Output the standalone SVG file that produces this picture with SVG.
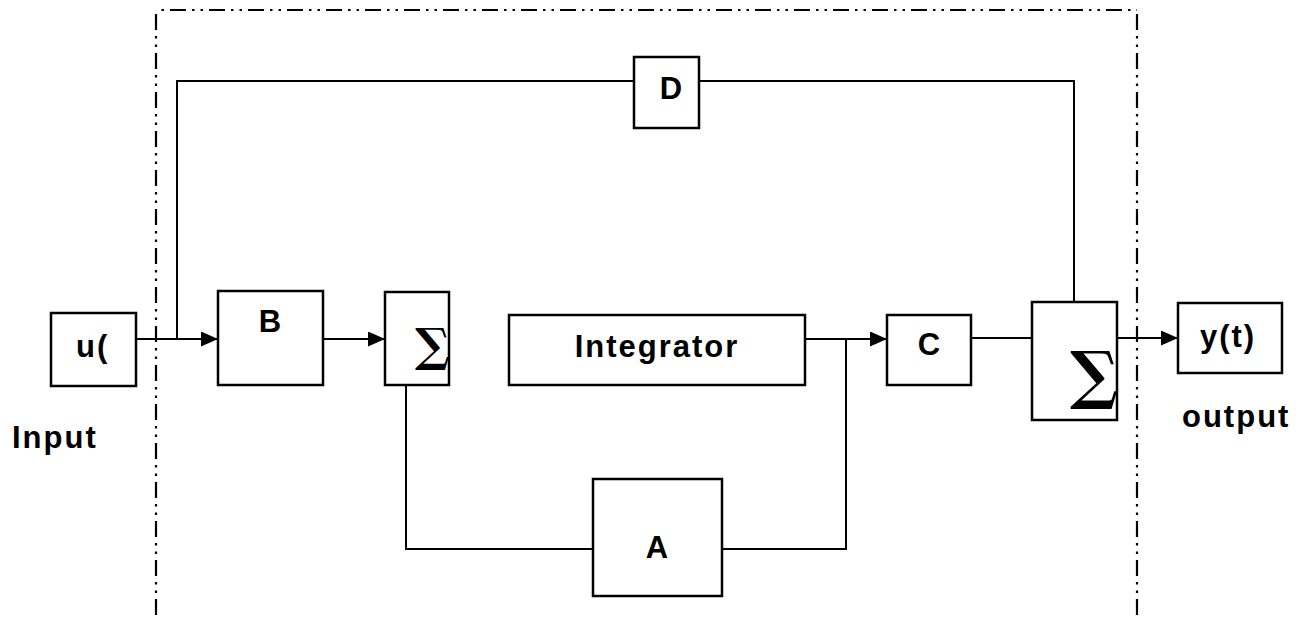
<svg xmlns="http://www.w3.org/2000/svg" width="1298" height="618" viewBox="0 0 1298 618">
<style>
.bg{fill:#ffffff}
.box{fill:#ffffff;stroke:#000;stroke-width:2.5}
.wire{fill:none;stroke:#000;stroke-width:2}
.border{fill:none;stroke:#000;stroke-width:2.2;stroke-dasharray:16 6 2.5 6 2.5 6}
.lbl{font-family:"Liberation Sans",Arial,sans-serif;font-weight:bold;font-size:31px;letter-spacing:2px;fill:#000}
.sig{font-family:"DejaVu Serif","Liberation Serif",serif;font-weight:bold;fill:#000}
</style>
<defs>
<marker id="arr" viewBox="0 0 17 15" refX="17" refY="7.5" markerWidth="17" markerHeight="15" markerUnits="userSpaceOnUse" orient="auto">
<path d="M0,0 L17,7.5 L0,15 Z" fill="#000"/>
</marker>
<clipPath id="clipS1"><rect x="386" y="293" width="62" height="91"/></clipPath>
<clipPath id="clipS2"><rect x="1033" y="303" width="83" height="116"/></clipPath>
</defs>
<rect class="bg" x="0" y="0" width="1298" height="618"/>

<g id="border">
<line class="border" x1="156" y1="10" x2="1137" y2="10" stroke-dashoffset="-14"/>
<line class="border" x1="156" y1="14" x2="156" y2="618"/>
<line class="border" x1="1137" y1="14" x2="1137" y2="618"/>
</g>

<g id="connectors">
<line class="wire" x1="136" y1="339" x2="218" y2="339" marker-end="url(#arr)"/>
<polyline class="wire" points="177,339 177,81 634,81"/>
<polyline class="wire" points="699,81 1074,81 1074,302"/>
<line class="wire" x1="323" y1="339" x2="385" y2="339" marker-end="url(#arr)"/>
<polyline class="wire" points="406,385 406,549 593,549"/>
<polyline class="wire" points="722,549 846,549 846,339"/>
<line class="wire" x1="805" y1="339" x2="887" y2="339" marker-end="url(#arr)"/>
<line class="wire" x1="971" y1="338" x2="1032" y2="338"/>
<line class="wire" x1="1117" y1="338" x2="1178" y2="338" marker-end="url(#arr)"/>
</g>

<g id="node-u">
<rect class="box" x="51" y="313" width="85" height="73"/>
<text class="lbl" x="76" y="357">u(</text>
</g>
<text id="label-input" class="lbl" x="12" y="448">Input</text>

<g id="node-B">
<rect class="box" x="218" y="291" width="105" height="94"/>
<text class="lbl" x="271" y="332" text-anchor="middle">B</text>
</g>

<g id="node-sum1">
<rect class="box" x="385" y="292" width="64" height="93"/>
<text class="sig" x="415" y="361" font-size="46" clip-path="url(#clipS1)">∑</text>
</g>

<g id="node-integrator">
<rect class="box" x="509" y="315" width="296" height="70"/>
<text class="lbl" x="657" y="357" text-anchor="middle">Integrator</text>
</g>

<g id="node-C">
<rect class="box" x="887" y="315" width="84" height="70"/>
<text class="lbl" x="930" y="355" text-anchor="middle">C</text>
</g>

<g id="node-D">
<rect class="box" x="634" y="57" width="65" height="71"/>
<text class="lbl" x="672" y="99" text-anchor="middle">D</text>
</g>

<g id="node-A">
<rect class="box" x="593" y="479" width="129" height="117"/>
<text class="lbl" x="658" y="558" text-anchor="middle">A</text>
</g>

<g id="node-sum2">
<rect class="box" x="1032" y="302" width="85" height="118"/>
<text class="sig" x="1070" y="397" font-size="64" clip-path="url(#clipS2)">∑</text>
</g>

<g id="node-y">
<rect class="box" x="1178" y="303" width="104" height="70"/>
<text class="lbl" x="1228" y="347" text-anchor="middle">y(t)</text>
</g>
<text id="label-output" class="lbl" x="1182" y="427">output</text>
</svg>
